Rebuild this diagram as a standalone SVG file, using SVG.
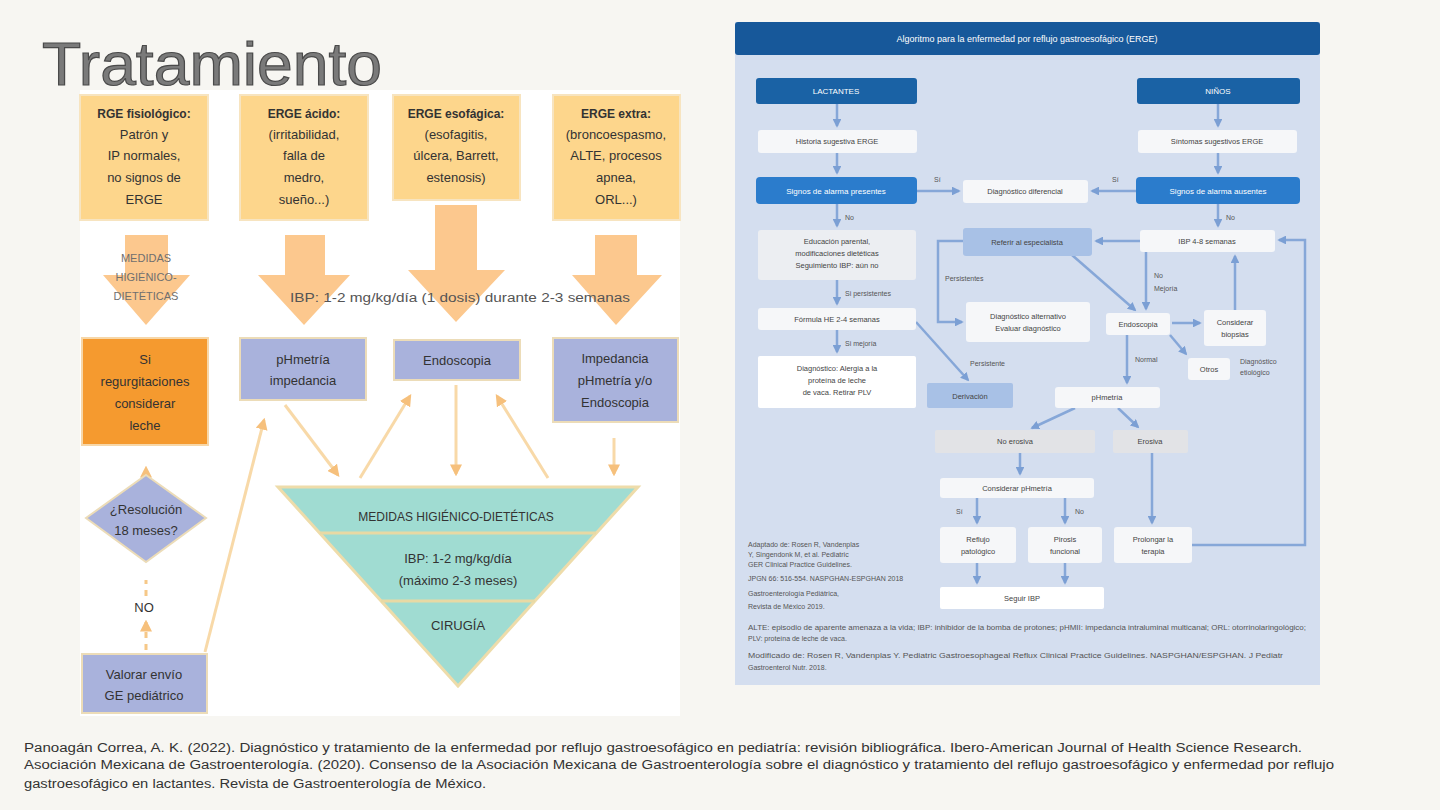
<svg xmlns="http://www.w3.org/2000/svg" width="1440" height="810" viewBox="0 0 1440 810">
<defs>
<style>
.t{font-family:"Liberation Sans",Arial,sans-serif;fill:#333;text-anchor:middle}
.yb{fill:#fdd68c;stroke:#f7e4c0;stroke-width:2}
.ba{fill:#fcc88e}
.lav{fill:#a9b2dc;stroke:#ecdcb8;stroke-width:2}
.ol{stroke:#f8d9a8;stroke-width:3;fill:none}
.od{stroke:#f6c888;stroke-width:3;fill:none;stroke-dasharray:6 6}
.s12{font-size:12px}
.s13{font-size:13px}
.r{font-family:"Liberation Sans",Arial,sans-serif;fill:#444;text-anchor:middle;font-size:7.5px}
.rw{font-family:"Liberation Sans",Arial,sans-serif;fill:#fff;text-anchor:middle;font-size:8px}
.rl{font-family:"Liberation Sans",Arial,sans-serif;fill:#555;font-size:7px}
.db{fill:#1a62a5}
.bb{fill:#2b7ccc}
.wb{fill:#f6f7f9}
.gb{fill:#e2e3e6}
.mb{fill:#a8c1e6}
.c{stroke:#86a7d8;stroke-width:2.5;fill:none}
</style>
<marker id="oa" viewBox="0 0 10 10" refX="8" refY="5" markerWidth="4" markerHeight="4" orient="auto"><path d="M0,0L10,5L0,10z" fill="#f6c07c"/></marker>
<marker id="ba" viewBox="0 0 10 10" refX="8" refY="5" markerWidth="3.5" markerHeight="3.5" orient="auto"><path d="M0,0L10,5L0,10z" fill="#7b9fd4"/></marker>
</defs>
<rect width="1440" height="810" fill="#f7f6f2"/>
<text x="42" y="85" font-family="Liberation Sans,Arial,sans-serif" font-size="62" fill="#7a7a7a" stroke="#4a4a4a" stroke-width="1.2" textLength="340" lengthAdjust="spacingAndGlyphs">Tratamiento</text>

<rect x="80" y="90" width="600" height="626" fill="#ffffff"/>

<!-- left connectors -->
<g id="left-connectors">
<path class="ba" d="M125,235H168V275H190L146,325L103,275H125Z"/>
<path class="ba" d="M285,235H325V275H350L304,325L258,275H285Z"/>
<path class="ba" d="M435,205H477V270H505L456,322L408,270H435Z"/>
<path class="ba" d="M595,235H637V275H662L616,325L572,275H595Z"/>
<path class="od" d="M146,560V468" marker-end="url(#oa)"/>
<path class="od" d="M146,596V580"/>
<path class="od" d="M146,650V622" marker-end="url(#oa)"/>
<path class="ol" d="M205,652L264,420" marker-end="url(#oa)"/>
<path class="ol" d="M285,405L338,475" marker-end="url(#oa)"/>
<path class="ol" d="M360,478L410,396" marker-end="url(#oa)"/>
<path class="ol" d="M456,385V474" marker-end="url(#oa)"/>
<path class="ol" d="M548,478L497,396" marker-end="url(#oa)"/>
<path class="ol" d="M614,438V474" marker-end="url(#oa)"/>
</g>

<text class="t" x="146" y="262" font-size="11" style="fill:#6f6f6f">MEDIDAS</text>
<text class="t" x="146" y="281" font-size="11" style="fill:#6f6f6f">HIGIÉNICO-</text>
<text class="t" x="146" y="300" font-size="11" style="fill:#6f6f6f">DIETÉTICAS</text>
<text class="t" x="460" y="302" font-size="12" style="fill:#555" textLength="340" lengthAdjust="spacingAndGlyphs">IBP: 1-2 mg/kg/día (1 dosis) durante 2-3 semanas</text>

<g id="n-rge-fisiologico">
<rect class="yb" x="80" y="95" width="128" height="125"/>
<text class="t s12" x="144" y="118" font-weight="bold">RGE fisiológico:</text>
<text class="t s13" x="144" y="139">Patrón y</text>
<text class="t s13" x="144" y="160">IP normales,</text>
<text class="t s13" x="144" y="182">no signos de</text>
<text class="t s13" x="144" y="204">ERGE</text>
</g>
<g id="n-erge-acido">
<rect class="yb" x="240" y="95" width="128" height="125"/>
<text class="t s12" x="304" y="118" font-weight="bold">ERGE ácido:</text>
<text class="t s13" x="304" y="139">(irritabilidad,</text>
<text class="t s13" x="304" y="160">falla de</text>
<text class="t s13" x="304" y="182">medro,</text>
<text class="t s13" x="304" y="204">sueño...)</text>
</g>
<g id="n-erge-esofagica">
<rect class="yb" x="393" y="95" width="127" height="105"/>
<text class="t s12" x="456" y="118" font-weight="bold">ERGE esofágica:</text>
<text class="t s13" x="456" y="139">(esofagitis,</text>
<text class="t s13" x="456" y="160">úlcera, Barrett,</text>
<text class="t s13" x="456" y="182">estenosis)</text>
</g>
<g id="n-erge-extra">
<rect class="yb" x="553" y="95" width="127" height="125"/>
<text class="t s12" x="616" y="118" font-weight="bold">ERGE extra:</text>
<text class="t s13" x="616" y="139">(broncoespasmo,</text>
<text class="t s13" x="616" y="160">ALTE, procesos</text>
<text class="t s13" x="616" y="182">apnea,</text>
<text class="t s13" x="616" y="204">ORL...)</text>
</g>

<g id="n-regurgitaciones">
<rect x="82" y="338" width="126" height="107" fill="#f59a2f" stroke="#f7d7a8" stroke-width="2"/>
<text class="t s13" x="145" y="364">Si</text>
<text class="t s13" x="145" y="386">regurgitaciones</text>
<text class="t s13" x="145" y="408">considerar</text>
<text class="t s13" x="145" y="430">leche</text>
</g>
<g id="n-phmetria">
<rect class="lav" x="240" y="338" width="126" height="62"/>
<text class="t s13" x="303" y="364">pHmetría</text>
<text class="t s13" x="303" y="385">impedancia</text>
</g>
<g id="n-endoscopia">
<rect class="lav" x="394" y="340" width="126" height="40"/>
<text class="t s13" x="457" y="365">Endoscopia</text>
</g>
<g id="n-impedancia">
<rect class="lav" x="553" y="338" width="125" height="84"/>
<text class="t s13" x="615" y="363">Impedancia</text>
<text class="t s13" x="615" y="385">pHmetría y/o</text>
<text class="t s13" x="615" y="407">Endoscopia</text>
</g>
<g id="n-resolucion">
<path class="lav" d="M146,475L206,518L146,562L86,518Z"/>
<text class="t s13" x="146" y="514">¿Resolución</text>
<text class="t s13" x="146" y="535">18 meses?</text>
</g>
<text class="t s13" x="144" y="612">NO</text>
<g id="n-valorar">
<rect class="lav" x="82" y="654" width="125" height="59"/>
<text class="t s13" x="144" y="679">Valorar envío</text>
<text class="t s13" x="144" y="700">GE pediátrico</text>
</g>
<g id="n-piramide">
<path d="M278,487H638L458,686Z" fill="#a0dcd2" stroke="#eedcaa" stroke-width="3"/>
<path d="M320,533H596M381,601H535" stroke="#e8d9a4" stroke-width="3"/>
<text class="t s12" x="456" y="521">MEDIDAS HIGIÉNICO-DIETÉTICAS</text>
<text class="t s13" x="458" y="563">IBP: 1-2 mg/kg/día</text>
<text class="t s13" x="458" y="585">(máximo 2-3 meses)</text>
<text class="t s13" x="458" y="630">CIRUGÍA</text>
</g>

<!-- right panel -->
<rect x="735" y="22" width="585" height="663" fill="#d4deef"/>
<g id="n-titulo">
<rect x="735" y="22" width="585" height="33" rx="3" fill="#17589a"/>
<text class="rw" x="1027" y="42" style="font-size:9px">Algoritmo para la enfermedad por reflujo gastroesofágico (ERGE)</text>
</g>

<g id="right-connectors">
<path class="c" d="M837,104V126" marker-end="url(#ba)"/>
<path class="c" d="M1218,104V126" marker-end="url(#ba)"/>
<path class="c" d="M837,153V173" marker-end="url(#ba)"/>
<path class="c" d="M1218,153V173" marker-end="url(#ba)"/>
<path class="c" d="M917,191H959" marker-end="url(#ba)"/>
<path class="c" d="M1136,191H1092" marker-end="url(#ba)"/>
<path class="c" d="M837,204V226" marker-end="url(#ba)"/>
<path class="c" d="M1218,204V226" marker-end="url(#ba)"/>
<path class="c" d="M837,280V304" marker-end="url(#ba)"/>
<path class="c" d="M837,330V352" marker-end="url(#ba)"/>
<path class="c" d="M963,241H938V322H962" marker-end="url(#ba)"/>
<path class="c" d="M916,322L968,380" marker-end="url(#ba)"/>
<path class="c" d="M1140,241H1096" marker-end="url(#ba)"/>
<path class="c" d="M1072,255L1135,310" marker-end="url(#ba)"/>
<path class="c" d="M1146,252V309" marker-end="url(#ba)"/>
<path class="c" d="M1235,310V256" marker-end="url(#ba)"/>
<path class="c" d="M1172,323H1200" marker-end="url(#ba)"/>
<path class="c" d="M1170,335L1186,354" marker-end="url(#ba)"/>
<path class="c" d="M1127,335V383" marker-end="url(#ba)"/>
<path class="c" d="M1075,408L1032,428" marker-end="url(#ba)"/>
<path class="c" d="M1118,408L1138,427" marker-end="url(#ba)"/>
<path class="c" d="M1020,453V474" marker-end="url(#ba)"/>
<path class="c" d="M977,498V523" marker-end="url(#ba)"/>
<path class="c" d="M1065,498V523" marker-end="url(#ba)"/>
<path class="c" d="M1152,453V523" marker-end="url(#ba)"/>
<path class="c" d="M977,563V583" marker-end="url(#ba)"/>
<path class="c" d="M1065,563V583" marker-end="url(#ba)"/>
<path class="c" d="M1192,545H1305V240H1279" marker-end="url(#ba)"/>
</g>

<text class="rl" x="934" y="182">Sí</text>
<text class="rl" x="1112" y="182">Sí</text>
<text class="rl" x="845" y="220">No</text>
<text class="rl" x="1226" y="220">No</text>
<text class="rl" x="845" y="296">Si persistentes</text>
<text class="rl" x="845" y="346">Si mejoría</text>
<text class="rl" x="945" y="281">Persistentes</text>
<text class="rl" x="970" y="366">Persistente</text>
<text class="rl" x="1154" y="278">No</text>
<text class="rl" x="1154" y="291">Mejoría</text>
<text class="rl" x="1135" y="362">Normal</text>
<text class="rl" x="1240" y="364">Diagnóstico</text>
<text class="rl" x="1240" y="375">etiológico</text>
<text class="rl" x="956" y="514">Sí</text>
<text class="rl" x="1075" y="514">No</text>

<g id="n-lactantes"><rect class="db" x="756" y="78" width="161" height="26" rx="3"/><text class="rw" x="836" y="94">LACTANTES</text></g>
<g id="n-ninos"><rect class="db" x="1137" y="78" width="163" height="26" rx="3"/><text class="rw" x="1218" y="94">NIÑOS</text></g>
<g id="n-historia"><rect class="wb" x="758" y="130" width="159" height="23" rx="3"/><text class="r" x="837" y="144">Historia sugestiva ERGE</text></g>
<g id="n-sintomas"><rect class="wb" x="1138" y="130" width="159" height="23" rx="3"/><text class="r" x="1217" y="144">Síntomas sugestivos ERGE</text></g>
<g id="n-alarma-l"><rect class="bb" x="756" y="177" width="161" height="27" rx="4"/><text class="rw" x="836" y="194">Signos de alarma presentes</text></g>
<g id="n-alarma-r"><rect class="bb" x="1136" y="177" width="164" height="27" rx="4"/><text class="rw" x="1218" y="194">Signos de alarma ausentes</text></g>
<g id="n-diferencial"><rect class="wb" x="963" y="180" width="125" height="23" rx="3"/><text class="r" x="1025" y="194">Diagnóstico diferencial</text></g>
<g id="n-educacion"><rect x="758" y="230" width="158" height="50" rx="3" fill="#eceef2"/>
<text class="r" x="837" y="244">Educación parental,</text><text class="r" x="837" y="256">modificaciones dietéticas</text><text class="r" x="837" y="268">Seguimiento IBP: aún no</text></g>
<g id="n-formula"><rect class="wb" x="758" y="308" width="158" height="22" rx="3"/><text class="r" x="837" y="322">Fórmula HE 2-4 semanas</text></g>
<g id="n-alergia"><rect x="758" y="356" width="158" height="52" rx="2" fill="#ffffff"/>
<text class="r" x="837" y="371">Diagnóstico: Alergia a la</text><text class="r" x="837" y="383">proteína de leche</text><text class="r" x="837" y="395">de vaca. Retirar PLV</text></g>
<g id="n-referir"><rect class="mb" x="963" y="228" width="129" height="28" rx="3"/><text class="r" x="1027" y="245">Referir al especialista</text></g>
<g id="n-alternativo"><rect class="wb" x="966" y="302" width="124" height="40" rx="3"/><text class="r" x="1028" y="319">Diagnóstico alternativo</text><text class="r" x="1028" y="331">Evaluar diagnóstico</text></g>
<g id="n-derivacion"><rect class="mb" x="927" y="383" width="86" height="25" rx="2"/><text class="r" x="970" y="399">Derivación</text></g>
<g id="n-ibp"><rect class="wb" x="1140" y="230" width="135" height="22" rx="3"/><text class="r" x="1207" y="244">IBP 4-8 semanas</text></g>
<g id="n-endo"><rect class="wb" x="1106" y="313" width="64" height="22" rx="3"/><text class="r" x="1138" y="327">Endoscopia</text></g>
<g id="n-biopsias"><rect class="wb" x="1204" y="310" width="62" height="36" rx="3"/><text class="r" x="1235" y="325">Considerar</text><text class="r" x="1235" y="337">biopsias</text></g>
<g id="n-otros"><rect class="wb" x="1188" y="358" width="42" height="22" rx="3"/><text class="r" x="1209" y="372">Otros</text></g>
<g id="n-phm"><rect class="wb" x="1055" y="387" width="105" height="21" rx="3"/><text class="r" x="1107" y="400">pHmetría</text></g>
<g id="n-noerosiva"><rect class="gb" x="935" y="430" width="160" height="23" rx="2"/><text class="r" x="1015" y="444">No erosiva</text></g>
<g id="n-erosiva"><rect class="gb" x="1113" y="430" width="75" height="23" rx="2"/><text class="r" x="1150" y="444">Erosiva</text></g>
<g id="n-considerar"><rect class="wb" x="940" y="478" width="154" height="20" rx="3"/><text class="r" x="1017" y="491">Considerar pHmetría</text></g>
<g id="n-reflujo"><rect class="wb" x="940" y="527" width="76" height="36" rx="3"/><text class="r" x="978" y="542">Reflujo</text><text class="r" x="978" y="554">patológico</text></g>
<g id="n-pirosis"><rect class="wb" x="1028" y="527" width="74" height="36" rx="3"/><text class="r" x="1065" y="542">Pirosis</text><text class="r" x="1065" y="554">funcional</text></g>
<g id="n-prolongar"><rect class="wb" x="1114" y="527" width="78" height="36" rx="3"/><text class="r" x="1153" y="542">Prolongar la</text><text class="r" x="1153" y="554">terapia</text></g>
<g id="n-seguir"><rect x="940" y="587" width="164" height="22" rx="2" fill="#ffffff"/><text class="r" x="1022" y="601">Seguir IBP</text></g>

<g id="notas">
<text class="rl" x="748" y="547">Adaptado de: Rosen R, Vandenplas</text>
<text class="rl" x="748" y="557">Y, Singendonk M, et al. Pediatric</text>
<text class="rl" x="748" y="567">GER Clinical Practice Guidelines.</text>
<text class="rl" x="748" y="581">JPGN 66: 516-554. NASPGHAN-ESPGHAN 2018</text>
<text class="rl" x="748" y="596">Gastroenterología Pediátrica,</text>
<text class="rl" x="748" y="609">Revista de México 2019.</text>
<text class="rl" x="748" y="630" textLength="558" lengthAdjust="spacingAndGlyphs">ALTE: episodio de aparente amenaza a la vida; IBP: inhibidor de la bomba de protones; pHMII: impedancia intraluminal multicanal; ORL: otorrinolaringológico;</text>
<text class="rl" x="748" y="641">PLV: proteína de leche de vaca.</text>
<text class="rl" x="748" y="658" textLength="535" lengthAdjust="spacingAndGlyphs">Modificado de: Rosen R, Vandenplas Y. Pediatric Gastroesophageal Reflux Clinical Practice Guidelines. NASPGHAN/ESPGHAN. J Pediatr</text>
<text class="rl" x="748" y="670">Gastroenterol Nutr. 2018.</text>
</g>

<g id="referencias" font-family="Liberation Sans,Arial,sans-serif" font-size="12" fill="#333">
<text x="24" y="752" textLength="1278" lengthAdjust="spacingAndGlyphs">Panoagán Correa, A. K. (2022). Diagnóstico y tratamiento de la enfermedad por reflujo gastroesofágico en pediatría: revisión bibliográfica. Ibero-American Journal of Health Science Research.</text>
<text x="24" y="769" textLength="1310" lengthAdjust="spacingAndGlyphs">Asociación Mexicana de Gastroenterología. (2020). Consenso de la Asociación Mexicana de Gastroenterología sobre el diagnóstico y tratamiento del reflujo gastroesofágico y enfermedad por reflujo</text>
<text x="24" y="788" textLength="462" lengthAdjust="spacingAndGlyphs">gastroesofágico en lactantes. Revista de Gastroenterología de México.</text>
</g>
</svg>
